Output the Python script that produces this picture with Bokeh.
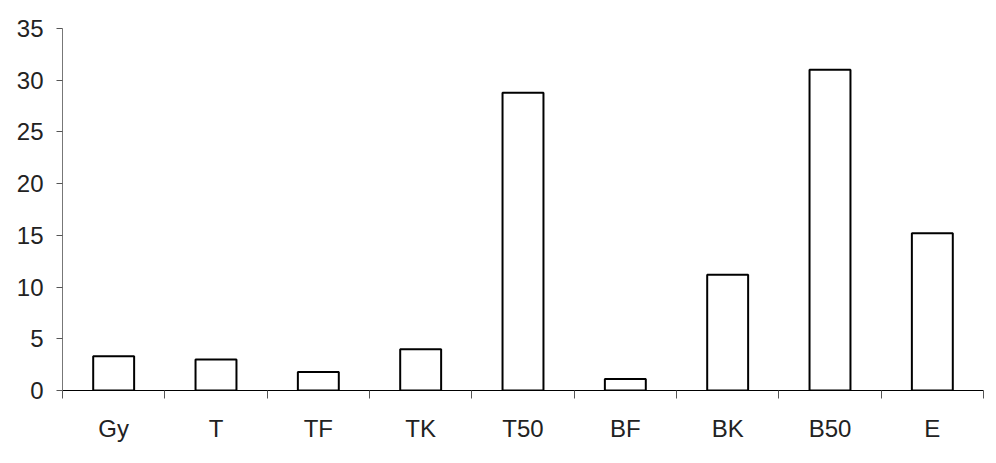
from bokeh.plotting import figure
from bokeh.models import ColumnDataSource, FixedTicker, Range1d, Label
from bokeh.embed import file_html
from bokeh.resources import INLINE

categories = ["Gy", "T", "TF", "TK", "T50", "BF", "BK", "B50", "E"]
values = [3.3, 3.0, 1.8, 4.0, 28.8, 1.1, 11.2, 31.0, 15.2]
y_ticks = [0, 5, 10, 15, 20, 25, 30, 35]

n = len(categories)
centers = [i + 0.5 for i in range(n)]
bounds = list(range(n + 1))

src = ColumnDataSource(dict(x=centers, top=values, cat=categories))

FONT = "Liberation Sans"
FS = "24px"

p = figure(width=996, height=463, output_backend="svg", toolbar_location=None,
           x_range=Range1d(0, n), y_range=Range1d(0, 35),
           min_border_left=62, min_border_right=13, min_border_top=28, min_border_bottom=73)

p.outline_line_color = None
p.grid.grid_line_color = None
p.background_fill_color = "white"
p.border_fill_color = None
p.border_fill_alpha = 0

p.vbar(x="x", top="top", bottom=0, width=0.4, source=src,
       fill_color="white", line_color="black", line_width=2)

xa = p.xaxis[0]
xa.ticker = FixedTicker(ticks=centers, minor_ticks=bounds)
xa.major_label_overrides = {c: lab for c, lab in zip(centers, categories)}
xa.major_tick_line_color = None
xa.major_tick_out = 8
xa.minor_tick_out = 8
xa.minor_tick_in = 0
xa.minor_tick_line_color = "#555555"
xa.axis_line_color = "black"
xa.major_label_text_font = FONT
xa.major_label_text_font_size = FS
xa.major_label_text_color = "#222222"
xa.major_label_standoff = 16

ya = p.yaxis[0]
ya.ticker = FixedTicker(ticks=y_ticks)
ya.minor_tick_line_color = None
ya.major_tick_out = 6
ya.major_tick_in = 0
ya.axis_line_color = "#777777"
ya.major_tick_line_color = "#555555"
ya.major_label_text_font = FONT
ya.major_label_text_font_size = FS
ya.major_label_text_color = "#222222"
ya.major_label_standoff = 13

p.add_layout(Label(x=-43, y=380, x_units="screen", y_units="screen", text="%",
                   text_align="right", text_baseline="alphabetic", level="overlay",
                   text_font=FONT, text_font_size=FS, text_color="#222222"))

open("out.html", "w").write(file_html(p, INLINE))
